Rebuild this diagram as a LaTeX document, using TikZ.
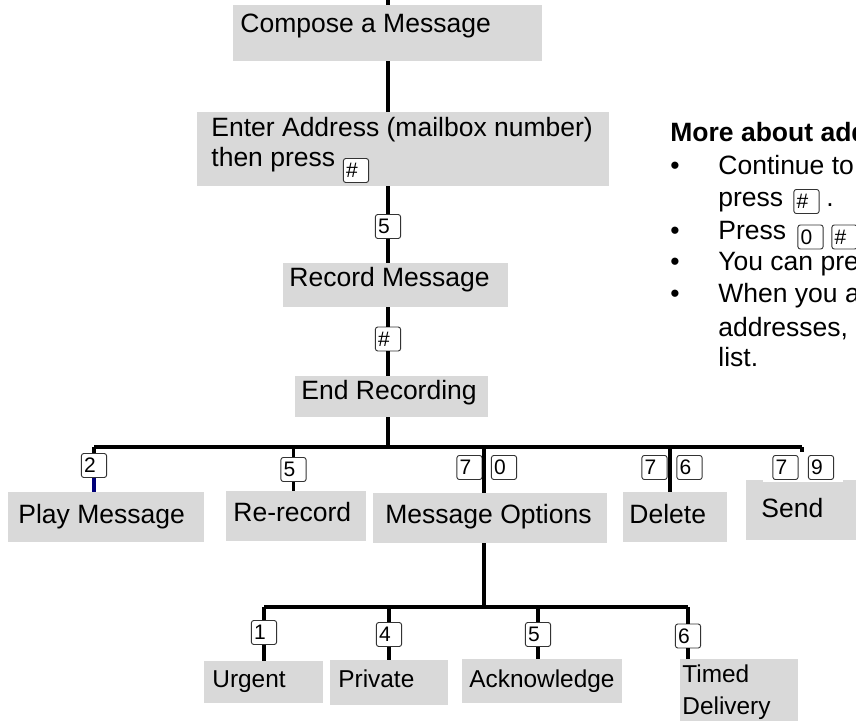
\documentclass[tikz,border=0pt]{standalone}
\usepackage{fontspec}
\setmainfont{Liberation Sans}
\usetikzlibrary{fit}
\definecolor{boxgray}{RGB}{217,217,217}
\definecolor{navy}{RGB}{0,0,120}
\tikzset{
  box/.style={fill=boxgray,inner sep=0pt},
  txt/.style={anchor=base west,inner sep=0pt,font=\fontsize{13.25}{16}\selectfont},
  subtxt/.style={txt,font=\fontsize{12.2}{15}\selectfont},
  head/.style={txt,font=\fontsize{13.25}{16}\selectfont\bfseries},
  keycap/.style={draw=black!80,line width=0.45pt,rounded corners=1.2pt,fill=white,
    inner sep=0pt,inner xsep=1.3pt,text width=10pt,minimum height=12pt,align=left,
    font=\fontsize{10.5}{12}\selectfont},
  conn/.style={line width=1.6pt},
}
\begin{document}
\begin{tikzpicture}[x=0.5pt,y=-0.5pt]
  \useasboundingbox (0,0) rectangle (856,721);
  \clip (0,0) rectangle (856,721);
  % boxes
  \node[box,fit={(233,5)(542,61)}] (compose) {};
  \node[box,fit={(197,112)(609,186)}] (enter) {};
  \node[box,fit={(283,263)(508,307)}] (record) {};
  \node[box,fit={(295,376)(488,417)}] (endrec) {};
  \node[box,fit={(8,492)(204,542)}] (play) {};
  \node[box,fit={(226,491)(366,541)}] (rerec) {};
  \node[box,fit={(373,493)(607,543)}] (opts) {};
  \node[box,fit={(623,492)(727,542)}] (delete) {};
  \node[box,fit={(746,480)(880,540)}] (send) {};
  \node[box,fit={(204,661)(323,703)}] (urgent) {};
  \node[box,fit={(330,660)(448,705)}] (private) {};
  \node[box,fit={(462,659)(622,703)}] (ack) {};
  \node[box,fit={(680,659)(798,740)}] (timed) {};
  \node[fill=white,inner sep=0pt,fit={(763,452)(843,482)}] (sendkeys) {}; % Sendの上の白地
  % box texts
  \node[txt] (composet) at (240,33) {Compose a Message};
  \node[txt] (entert) at (211,137) {Enter Address (mailbox number)};
  \node[txt] (entert2) at (211,167) {then press};
  \node[txt] (recordt) at (289,287) {Record Message};
  \node[txt] (endrect) at (301,400) {End Recording};
  \node[txt] (playt) at (18,523) {Play Message};
  \node[txt] (rerect) at (233,521) {Re-record};
  \node[txt] (optst) at (385,523) {Message Options};
  \node[txt] (deletet) at (629,523) {Delete};
  \node[txt] (sendt) at (761,517) {Send};
  \node[subtxt] (urgentt) at (212,687) {Urgent};
  \node[subtxt] (privatet) at (338,687) {Private};
  \node[subtxt] (ackt) at (469,687) {Acknowledge};
  \node[subtxt] (timedt) at (682,682) {Timed};
  \node[subtxt] (timedt2) at (682,714) {Delivery};
  % keys
  \node[keycap] (kenter) at (356,170.5) {\#};
  \node[keycap] (k5) at (388,226.5) {5};
  \node[keycap] (khash) at (388,339) {\#};
  \node[keycap] (k2) at (94,465.5) {2};
  \node[keycap] (kr5) at (293.5,469.5) {5};
  \node[keycap] (k7a) at (469.5,467.5) {7};
  \node[keycap] (k0) at (504,467.5) {0};
  \node[keycap] (k7b) at (654.5,467.5) {7};
  \node[keycap] (k6) at (689.5,467.5) {6};
  \node[keycap] (k7c) at (785.5,467.5) {7};
  \node[keycap] (k9) at (821,467.5) {9};
  \node[keycap] (s1) at (264,632.5) {1};
  \node[keycap] (s4) at (389,634.5) {4};
  \node[keycap] (s5) at (538,634.5) {5};
  \node[keycap] (s6) at (688,636) {6};
  % spine
  \coordinate (top) at (388,0);
  \coordinate (busl) at (94,447);
  \coordinate (busr) at (802,447);
  \coordinate (mo) at (484,447);
  \coordinate (de) at (670,447);
  \coordinate (sbl) at (264,607);
  \coordinate (sbr) at (688,607);
  \draw[conn] (top) -- (compose.north -| top);
  \draw[conn] (compose.south -| top) -- (enter.north -| top);
  \draw[conn] (enter.south -| top) -- (k5.north);
  \draw[conn] (k5.south) -- (record.north -| k5);
  \draw[conn] (record.south -| k5) -- (khash.north);
  \draw[conn] (khash.south) -- (endrec.north -| khash);
  \draw[conn] (endrec.south -| top) -- (top |- busl);
  % first row
  \draw[conn] (busl) -- (busr);
  \draw[conn] (busl) -- (k2.north);
  \draw[conn,navy] (k2.south) -- (play.north -| k2);
  \draw[conn] (busl -| kr5) -- (kr5.north);
  \draw[conn] (kr5.south) -- (rerec.north -| kr5);
  \draw[conn] (mo) -- (opts.north -| mo);
  \draw[conn] (de) -- (delete.north -| de);
  \draw[conn] (busr) -- (sendkeys.north -| busr);
  % options row
  \draw[conn] (opts.south -| mo) -- (mo |- sbl);
  \draw[conn] (sbl) -- (sbr);
  \foreach \k/\b in {s1/urgent,s4/private,s5/ack,s6/timed}{
    \draw[conn] (sbl -| \k) -- (\k.north);
    \draw[conn] (\k.south) -- (\b.north -| \k);
  }
  % right notes
  \node[head] (moret) at (670,142) {More about addressing};
  \node[txt] (b1) at (670,175) {•};
  \node[txt] (n1) at (718,175) {Continue to enter};
  \node[txt] (n1b) at (718,207) {press};
  \node[keycap] (nk1) at (806.5,201.5) {\#};
  \node[txt] (n1c) at (826,207) {.};
  \node[txt] (b2) at (670,240) {•};
  \node[txt] (n2) at (718,240) {Press};
  \node[keycap] (nk2) at (810.5,237) {0};
  \node[keycap] (nk3) at (844.5,237) {\#};
  \node[txt] (b3) at (670,271) {•};
  \node[txt] (n3) at (718,271) {You can press};
  \node[txt] (b4) at (670,303) {•};
  \node[txt] (n4) at (718,303) {When you are};
  \node[txt] (n4b) at (718,336) {addresses, press};
  \node[txt] (n4c) at (718,367) {list.};
\end{tikzpicture}
\end{document}
